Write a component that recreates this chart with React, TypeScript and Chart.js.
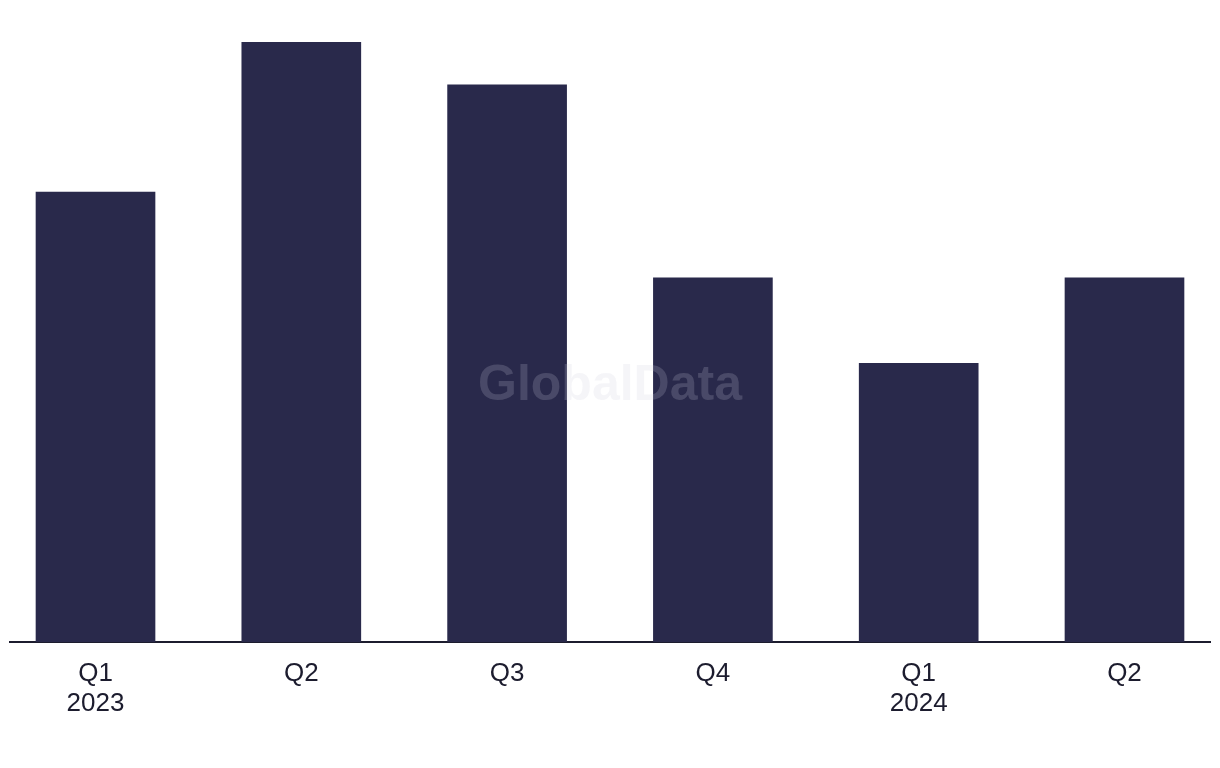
import React, { useEffect, useRef } from "react";
import { Chart, registerables } from "chart.js";

Chart.register(...registerables);

const quarters = ["Q1", "Q2", "Q3", "Q4", "Q1", "Q2"];
const years = ["2023", "", "", "", "2024", ""];
const values = [21, 28, 26, 17, 13, 17];

const BAR_COLOR = "#29294b";
const TEXT_COLOR = "#1c1c2e";

const watermark = {
  id: "watermark",
  afterDatasetsDraw(chart: any) {
    const { ctx } = chart;
    ctx.save();
    ctx.font = "bold 50px 'Liberation Sans', Arial, sans-serif";
    ctx.fillStyle = "rgba(206, 206, 218, 0.2)";
    ctx.textAlign = "center";
    ctx.textBaseline = "middle";
    ctx.fillText("GlobalData", 610, 386);
    ctx.restore();
  },
};

export default function App() {
  const ref = useRef<HTMLCanvasElement | null>(null);

  useEffect(() => {
    if (!ref.current) return;
    const chart = new Chart(ref.current, {
      type: "bar",
      data: {
        datasets: [
          {
            data: values.map((v, i) => ({ x: i, y: v })),
            backgroundColor: BAR_COLOR,
            barThickness: 119,
            borderWidth: 0,
          },
        ],
      },
      options: {
        animation: false,
        responsive: false,
        maintainAspectRatio: false,
        layout: { padding: { left: 10, right: 10, top: 42, bottom: 0 } },
        plugins: { legend: { display: false }, tooltip: { enabled: false } },
        scales: {
          x: {
            type: "linear",
            offset: false,
            bounds: "data",
            min: -0.4155,
            max: 5.4155,
            grid: { display: false, drawTicks: false, offset: false },
            border: { display: true, color: "#1c1c2e", width: 2 },
            afterBuildTicks: (scale: any) => {
              scale.ticks = quarters.map((_, i) => ({ value: i }));
            },
            afterFit: (scale: any) => {
              scale.height = 126;
            },
            ticks: {
              autoSkip: false,
              maxRotation: 0,
              padding: 17,
              color: TEXT_COLOR,
              font: { family: "'Liberation Sans', Arial, sans-serif", size: 26, lineHeight: 1.15 },
              callback: (value: any) => {
                const i = Math.round(Number(value));
                return years[i] ? [quarters[i], years[i]] : quarters[i];
              },
            },
          },
          y: {
            display: false,
            min: 0,
            max: 28,
          },
        },
      },
      plugins: [watermark],
    });
    return () => chart.destroy();
  }, []);

  return (
    <div style={{ position: "fixed", left: 0, top: 0, width: 1220, height: 768, background: "#fff" }}>
      <canvas ref={ref} width={1220} height={768} style={{ display: "block" }} />
    </div>
  );
}
